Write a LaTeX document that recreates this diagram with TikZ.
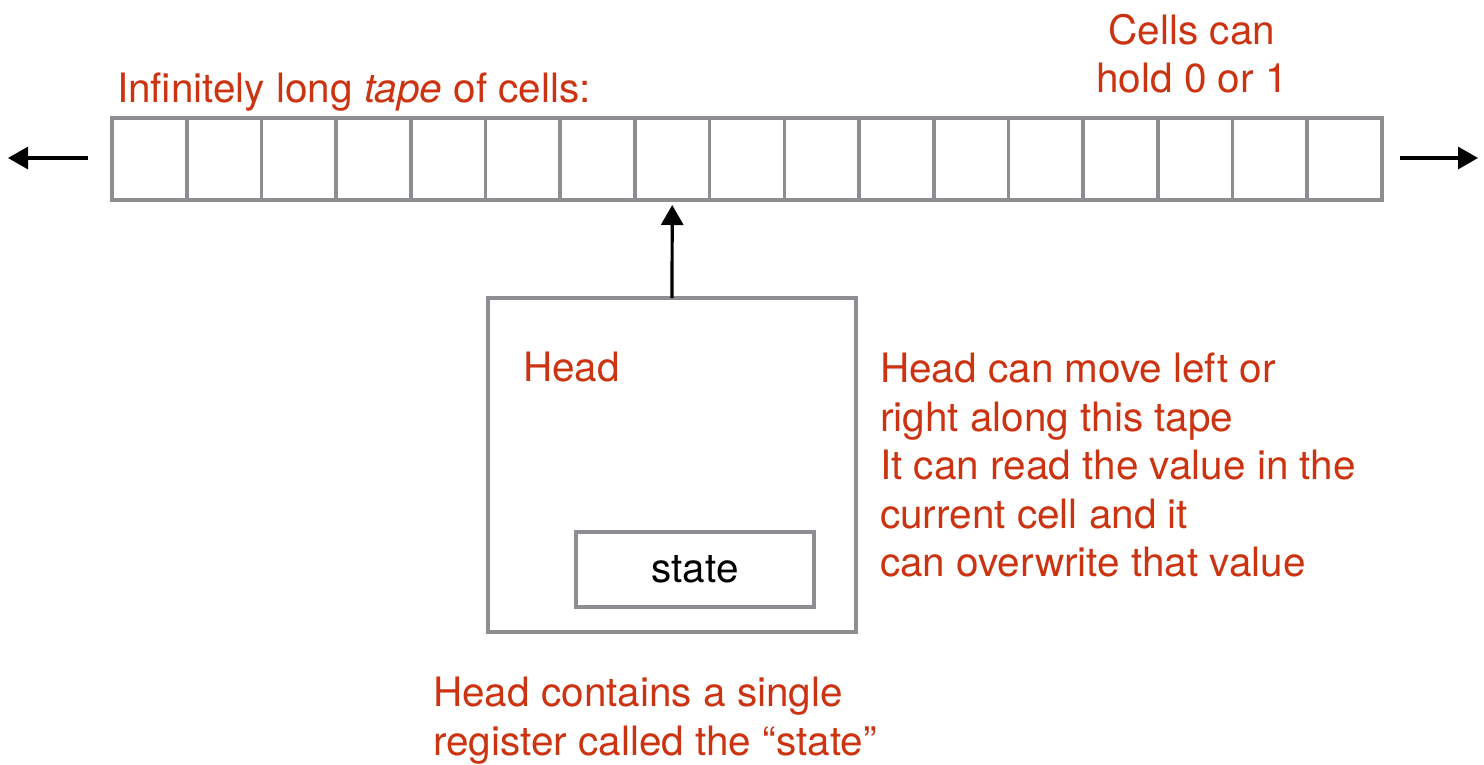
\documentclass[tikz,border=0pt]{standalone}
\usepackage{fontspec}
\setmainfont{TeX Gyre Heros}
\usetikzlibrary{arrows.meta}
\definecolor{tred}{RGB}{204,51,17}
\definecolor{tgray}{RGB}{140,142,146}
\begin{document}
\begin{tikzpicture}[x=1pt,y=-1pt,
  cell/.style={draw=tgray,line width=3.6pt,minimum width=74.7pt,minimum height=82pt,inner sep=0pt,outer sep=0pt},
  box/.style={draw=tgray,line width=3.6pt,inner sep=0pt,outer sep=0pt},
  lbl/.style={text=tred,font=\fontsize{40.5}{48.7}\selectfont,inner sep=0pt,anchor=base west},
  lblc/.style={text=tred,font=\fontsize{40.5}{48.7}\selectfont,inner sep=0pt,anchor=base},
  arr/.style={line width=3.2pt,-{Triangle[length=20pt,width=22pt]}}]
\useasboundingbox (0,0) rectangle (1484,764);
\foreach \i in {1,...,17}{
  \node[cell] (c\i) at ({112+74.7*(\i-0.5)},159) {};
}
\coordinate (lend) at (8,158);
\coordinate (lstart) at (88,158);
\coordinate (rstart) at (1400,158);
\coordinate (rend) at (1478,158);
\draw[arr] (lstart) -- (lend);
\draw[arr] (rstart) -- (rend);
\node[box,minimum width=368pt,minimum height=334pt] (head) at (672,465) {};
\node[box,minimum width=238pt,minimum height=75pt] (state) at (695,569.5) {};
\node[font=\fontsize{40.5}{48.7}\selectfont,inner sep=0pt,anchor=base] (statet) at (695,582) {state};
\draw[arr,shorten >=5pt] (head.north) -- (c8.south);
\node[lbl] (t1) at (117,102) {Infinitely long \textit{tape} of cells:};
\node[lblc] (cc1) at (1192,44) {Cells can};
\node[lblc] (cc2) at (1192,92) {hold 0 or 1};
\node[lbl] (hd) at (523,381) {Head};
\node[lbl] (r1) at (880,382) {Head can move left or};
\node[lbl] (r2) at (880,431) {right along this tape};
\node[lbl] (r3) at (880,479) {It can read the value in the};
\node[lbl] (r4) at (880,528) {current cell and it};
\node[lbl] (r5) at (880,576) {can overwrite that value};
\node[lbl] (b1) at (433,706) {Head contains a single};
\node[lbl] (b2) at (433,755) {register called the “state”};
\end{tikzpicture}
\end{document}
